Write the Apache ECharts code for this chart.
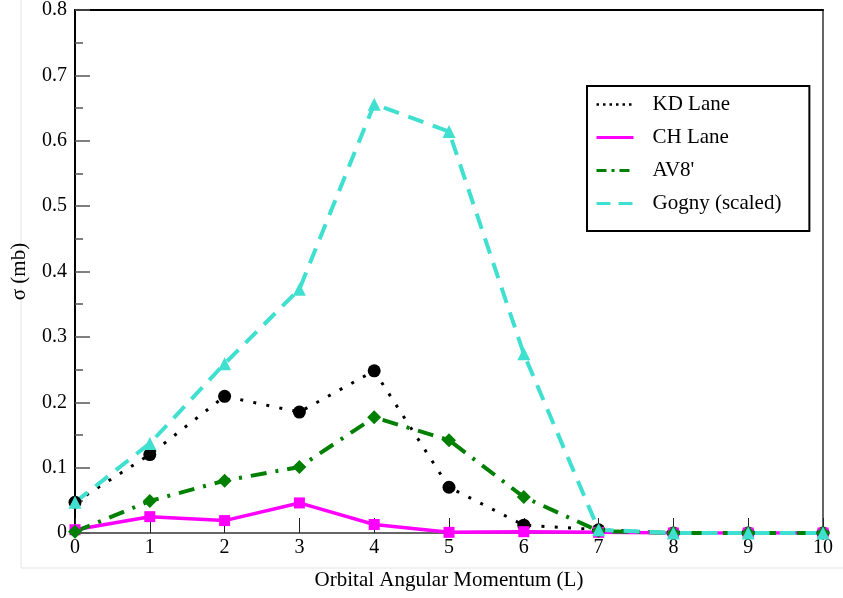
<!DOCTYPE html>
<html>
<head>
<meta charset="utf-8">
<script src="https://cdn.jsdelivr.net/npm/echarts@6/dist/echarts.min.js"></script>
<style>
html,body{margin:0;padding:0;background:#fff;}
#chart{width:843px;height:598px;}
</style>
</head>
<body>
<div id="chart"></div>
<script>
const categories = [0, 1, 2, 3, 4, 5, 6, 7, 8, 9, 10];
const kdLane = [0.047, 0.120, 0.209, 0.185, 0.248, 0.070, 0.012, 0.005, 0, 0, 0];
const chLane = [0.005, 0.025, 0.019, 0.046, 0.013, 0.001, 0.002, 0.001, 0, 0, 0];
const av8 = [0.002, 0.049, 0.080, 0.101, 0.177, 0.142, 0.055, 0.003, 0, 0, 0];
const gogny = [0.047, 0.137, 0.259, 0.373, 0.656, 0.614, 0.274, 0.005, 0, 0, 0];
const seriesNames = ['KD Lane', 'CH Lane', "AV8'", 'Gogny (scaled)'];

const pairs = arr => arr.map((v, i) => [categories[i], v]);
const FONT = 'Liberation Serif';

const chart = echarts.init(document.getElementById('chart'));
chart.setOption({
  animation: false,
  backgroundColor: '#fff',
  textStyle: { fontFamily: FONT },
  grid: { left: 75, right: 20, top: 8, bottom: 65 },
  legend: {
    orient: 'vertical',
    left: 587, top: 86,
    backgroundColor: '#fff',
    borderColor: '#000', borderWidth: 2,
    padding: [8, 28, 17, 8],
    itemWidth: 37, itemHeight: 14, itemGap: 12,
    itemStyle: { opacity: 0 },
    textStyle: { fontFamily: FONT, fontSize: 21, color: '#000', padding: [0, 0, 0, 14] },
    data: [
      { name: seriesNames[0], lineStyle: { width: 2.5, type: [2.5, 4] } },
      { name: seriesNames[1], lineStyle: { width: 3 } },
      { name: seriesNames[2], lineStyle: { width: 3, type: [10, 5, 3, 5] } },
      { name: seriesNames[3], lineStyle: { width: 3, type: [14, 8] } }
    ]
  },
  xAxis: [{
    type: 'value', min: 0, max: 10, interval: 1,
    name: 'Orbital Angular Momentum (L)', nameLocation: 'middle', nameGap: 37,
    nameTextStyle: { fontFamily: FONT, fontSize: 21, color: '#000' },
    axisLine: { show: true, lineStyle: { color: '#666', width: 2 } },
    axisTick: { show: true, inside: true, length: 15, lineStyle: { color: '#222', width: 1 } },
    axisLabel: { fontFamily: FONT, fontSize: 20, color: '#000', margin: 5 },
    splitLine: { show: false }
  }, {
    type: 'value', min: 0, max: 10, position: 'top',
    axisLine: { show: true, onZero: false, lineStyle: { color: '#000', width: 2 } },
    axisTick: { show: false }, axisLabel: { show: false }, splitLine: { show: false }
  }],
  yAxis: [{
    type: 'value', min: 0, max: 0.8, interval: 0.1,
    name: 'σ (mb)', nameLocation: 'middle', nameGap: 45, nameRotate: 90,
    nameTextStyle: { fontFamily: FONT, fontSize: 21, color: '#000' },
    axisLine: { show: true, lineStyle: { color: '#000', width: 2 } },
    axisTick: { show: true, inside: true, length: 15, lineStyle: { color: '#555', width: 1.5 } },
    minorTick: { show: true, splitNumber: 2, length: 8, lineStyle: { color: '#555', width: 1.5 } },
    axisLabel: { fontFamily: FONT, fontSize: 20, color: '#000', margin: 8,
      formatter: v => v === 0 ? '0' : v.toFixed(1) },
    splitLine: { show: false }
  }, {
    type: 'value', min: 0, max: 0.8, position: 'right',
    axisLine: { show: true, onZero: false, lineStyle: { color: '#666', width: 2 } },
    axisTick: { show: false }, axisLabel: { show: false }, splitLine: { show: false }
  }],
  graphic: [
    { type: 'line', shape: { x1: 21, y1: 0, x2: 21, y2: 568 }, style: { stroke: '#e4e4e4', lineWidth: 1 }, z: -1 },
    { type: 'line', shape: { x1: 21, y1: 568, x2: 843, y2: 568 }, style: { stroke: '#e4e4e4', lineWidth: 1 }, z: -1 }
  ],
  series: [{
    name: seriesNames[0], type: 'line', data: pairs(kdLane),
    symbol: 'circle', symbolSize: 13,
    itemStyle: { color: '#000' },
    lineStyle: { color: '#000', width: 3, type: [3, 10.3] }
  }, {
    name: seriesNames[1], type: 'line', data: pairs(chLane),
    symbol: 'rect', symbolSize: 11,
    itemStyle: { color: '#ff00ff' },
    lineStyle: { color: '#ff00ff', width: 3.5, type: 'solid' }
  }, {
    name: seriesNames[2], type: 'line', data: pairs(av8),
    symbol: 'diamond', symbolSize: 14,
    itemStyle: { color: '#008000' },
    lineStyle: { color: '#008000', width: 4, type: [16, 9, 3, 9] }
  }, {
    name: seriesNames[3], type: 'line', data: pairs(gogny),
    symbol: 'triangle', symbolSize: 13,
    itemStyle: { color: '#40e0d0' },
    lineStyle: { color: '#40e0d0', width: 4, type: [16, 10] }
  }]
});
</script>
</body>
</html>
